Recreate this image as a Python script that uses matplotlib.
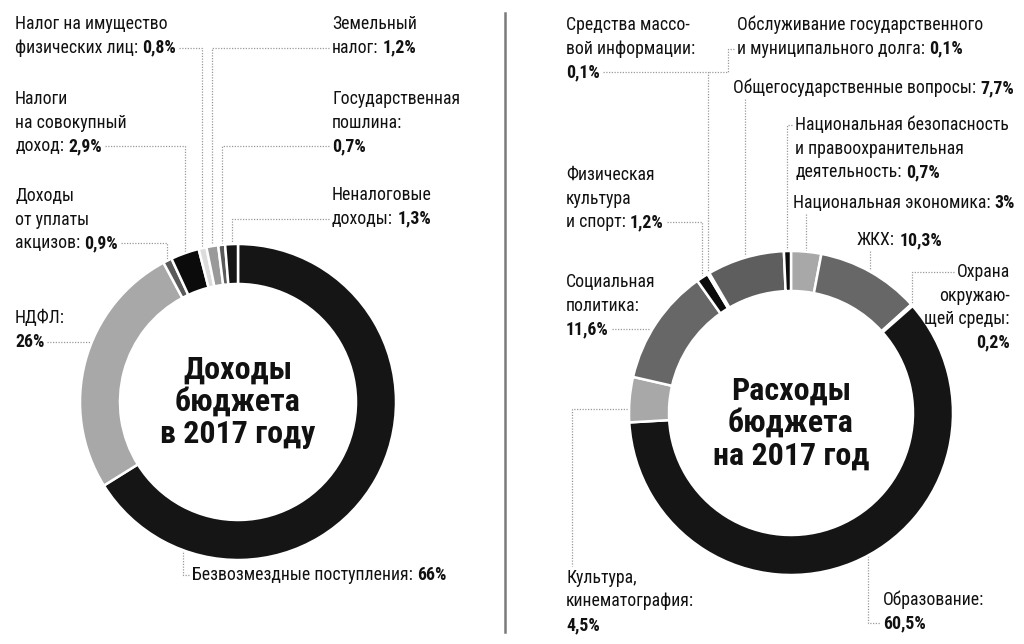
import numpy as np
import matplotlib
matplotlib.use('Agg')
import matplotlib.pyplot as plt
from matplotlib import font_manager

# pick a narrow font if there is one
installed = {f.name for f in font_manager.fontManager.ttflist}
font = 'DejaVu Sans'
for cand in ['Liberation Sans Narrow', 'Roboto Condensed', 'Open Sans Condensed',
             'DejaVu Sans Condensed', 'Roboto']:
    if cand in installed:
        font = cand
        break
plt.rcParams['font.family'] = [font, 'DejaVu Sans']

# income data (clockwise from 12 o'clock)
income_names = ['Безвозмездные поступления:', 'НДФЛ:\n', 'Доходы\nот уплаты\nакцизов:',
                'Налоги\nна совокупный\nдоход:', 'Налог на имущество\nфизических лиц:',
                'Земельный\nналог:', 'Государственная\nпошлина:\n', 'Неналоговые\nдоходы:']
income_values = [66, 26, 0.9, 2.9, 0.8, 1.2, 0.7, 1.3]
income_colors = ['#151515', '#a8a8a8', '#5a5a5a', '#0b0b0b', '#dcdcdc', '#9a9a9a', '#5a5a5a', '#151515']

# expense data (clockwise from 12 o'clock)
expense_names = ['Национальная экономика:', 'ЖКХ:', 'Охрана\nокружаю-\nщей среды:\n', 'Образование:\n',
                 'Культура,\nкинематография:\n', 'Социальная\nполитика:\n', 'Физическая\nкультура\nи спорт:',
                 'Средства массо-\nвой информации:\n', 'Обслуживание государственного\nи муниципального долга:',
                 'Общегосударственные вопросы:', 'Национальная безопасность\nи правоохранительная\nдеятельность:']
expense_values = [3, 10.3, 0.2, 60.5, 4.5, 11.6, 1.2, 0.1, 0.1, 7.7, 0.7]
expense_colors = ['#a8a8a8', '#676767', '#2a2a2a', '#151515', '#a8a8a8', '#676767', '#0b0b0b',
                  '#dddddd', '#dddddd', '#5e5e5e', '#0b0b0b']

W, H = 1024, 644
fig = plt.figure(figsize=(W / 100, H / 100), dpi=100)
ax = fig.add_axes([0, 0, 1, 1])

LC = (238, 402, 158)   # left donut cx, cy, R (pixels)
RC = (791, 413, 162)
RING = 40
FS = 12.8
GAP = 23.5


def donut(vals, colors, c):
    wedges, _ = ax.pie(vals, colors=colors, startangle=-90, counterclock=True,
                       center=(c[0], c[1]), radius=c[2],
                       wedgeprops=dict(width=RING, edgecolor='white', linewidth=1.8))
    return wedges


wl = donut(income_values, income_colors, LC)
wr = donut(expense_values, expense_colors, RC)

ax.set_xlim(0, W)
ax.set_ylim(H, 0)
ax.set_aspect('equal')
ax.axis('off')

ax.plot([505, 505], [13, 632], color='#7a7a7a', lw=1.8)

ax.text(LC[0], LC[1], 'Доходы\nбюджета\nв 2017 году', ha='center', va='center',
        fontsize=23, fontweight='bold', linespacing=1.1, color='#111111')
ax.text(RC[0], RC[1] + 10, 'Расходы\nбюджета\nна 2017 год', ha='center', va='center',
        fontsize=23, fontweight='bold', linespacing=1.1, color='#111111')


def fmt(v):
    return f'{v:g}'.replace('.', ',') + '%'


def draw_label(x, y0, text, value, ha='left'):
    lines = text.split('\n')
    arts = []
    for k, ln in enumerate(lines):
        y = y0 + k * GAP
        if k < len(lines) - 1:
            t = ax.text(x, y, ln, ha=ha, va='center', fontsize=FS, color='#111111')
            arts.append([t])
        elif ln:
            t = ax.text(x, y, ln, ha=ha, va='center', fontsize=FS, color='#111111')
            b = ax.annotate(fmt(value), xy=(1, 0.5), xycoords=t, xytext=(3, 0),
                            textcoords='offset points', ha='left', va='center',
                            fontsize=FS, fontweight='bold', color='#111111')
            arts.append([t, b])
        else:
            b = ax.text(x, y, fmt(value), ha=ha, va='center', fontsize=FS,
                        fontweight='bold', color='#111111')
            arts.append([b])
    return arts


# label positions: x, first line y, align
income_pos = [(192, 575, 'left'), (15, 318, 'left'), (15, 196, 'left'), (15, 99, 'left'),
              (15, 24, 'left'), (332, 24, 'left'), (332, 99, 'left'), (332, 195, 'left')]
expense_pos = [(793, 203, 'left'), (857, 240, 'left'), (1010, 272, 'right'), (883, 600, 'left'),
               (566, 578, 'left'), (566, 282, 'left'), (566, 175, 'left'), (566, 25, 'left'),
               (737, 25, 'left'), (733, 88, 'left'), (795, 125, 'left')]

lab_l = [draw_label(p[0], p[1], n, v, p[2]) for p, n, v in zip(income_pos, income_names, income_values)]
lab_r = [draw_label(p[0], p[1], n, v, p[2]) for p, n, v in zip(expense_pos, expense_names, expense_values)]

fig.canvas.draw()
rend = fig.canvas.get_renderer()
inv = ax.transData.inverted()


def box(a):
    return a.get_window_extent(rend).transformed(inv)


def line_left(arts, k):
    return box(arts[k][0]).xmin


def line_right(arts, k):
    return box(arts[k][-1]).xmax


def line_y(arts, k):
    bb = box(arts[k][0])
    return (bb.ymin + bb.ymax) / 2


def mid_point(w, c):
    a = np.deg2rad((w.theta1 + w.theta2) / 2)
    return c[0] + c[2] * np.cos(a), c[1] + c[2] * np.sin(a)


def ring_left_x(y, c):
    return c[0] - np.sqrt(c[2] ** 2 - (y - c[1]) ** 2)


def ring_bottom_y(x, c):
    return c[1] + np.sqrt(c[2] ** 2 - (x - c[0]) ** 2)


def leader(xs, ys):
    ax.plot(xs, ys, color='#9a9a9a', lw=0.9, ls=(0, (1, 1.2)), zorder=0)


def from_right(arts, k, w, c):
    y = line_y(arts, k)
    sx, sy = mid_point(w, c)
    leader([line_right(arts, k) + 3, sx, sx], [y, y, sy])


def from_left(arts, k, w, c):
    y = line_y(arts, k)
    sx, sy = mid_point(w, c)
    leader([line_left(arts, k) - 3, sx, sx], [y, y, sy])


def from_below(arts, w, c):
    sx, sy = mid_point(w, c)
    leader([sx, sx], [box(arts[-1][0]).ymax + 2, sy])


# income leaders
y = line_y(lab_l[0], 0)
leader([line_left(lab_l[0], 0) - 3, 183, 183], [y, y, ring_bottom_y(183, LC)])
y = line_y(lab_l[1], 1)
leader([line_right(lab_l[1], 1) + 3, ring_left_x(y, LC)], [y, y])
from_right(lab_l[2], 2, wl[2], LC)
from_right(lab_l[3], 2, wl[3], LC)
from_right(lab_l[4], 1, wl[4], LC)
from_left(lab_l[5], 1, wl[5], LC)
from_left(lab_l[6], 2, wl[6], LC)
from_left(lab_l[7], 1, wl[7], LC)

# expense leaders
from_below(lab_r[0], wr[0], RC)
from_below(lab_r[1], wr[1], RC)
from_left(lab_r[2], 0, wr[2], RC)
y = line_y(lab_r[3], 1)
leader([868, 868, line_left(lab_r[3], 1) - 3], [ring_bottom_y(868, RC), y, y])
sx, sy = mid_point(wr[4], RC)
leader([sx, 572, 572], [sy + 9, sy + 9, box(lab_r[4][0][0]).ymin - 3])
y = line_y(lab_r[5], 2)
leader([line_right(lab_r[5], 2) + 3, ring_left_x(y, RC)], [y, y])
from_right(lab_r[6], 2, wr[6], RC)
from_right(lab_r[7], 2, wr[7], RC)
y = line_y(lab_r[8], 1)
y2 = line_y(lab_r[7], 2)
sx, sy = mid_point(wr[8], RC)
leader([line_left(lab_r[8], 1) - 3, 728, 728, sx], [y, y, y2, y2])
from_below(lab_r[9], wr[9], RC)
from_left(lab_r[10], 0, wr[10], RC)

fig.savefig('out.png', dpi=100, facecolor='white')
